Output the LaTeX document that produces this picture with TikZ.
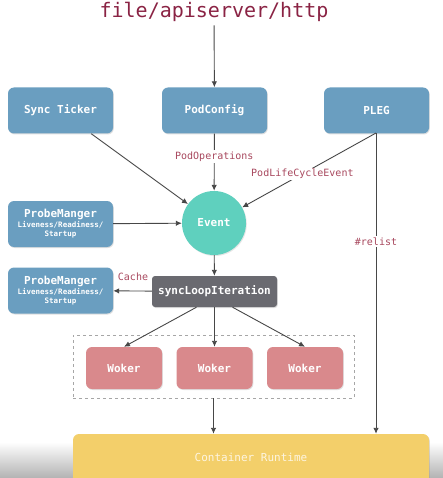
\documentclass[tikz,border=0pt]{standalone}
\usepackage{fontspec}
\setmonofont{DejaVu Sans Mono}
\usetikzlibrary{arrows.meta,positioning,shadows}
\definecolor{titlered}{HTML}{8A2344}
\definecolor{labelred}{HTML}{A8485E}
\definecolor{boxblue}{HTML}{6A9EC0}
\definecolor{eventteal}{HTML}{5FD0BE}
\definecolor{loopgray}{HTML}{6A6A70}
\definecolor{wokerred}{HTML}{D9898C}
\definecolor{runtimeyellow}{HTML}{F3CF6A}
\definecolor{arrowgray}{HTML}{474747}
\tikzset{%
    >={Latex[length=6pt,width=5.5pt]},
    flow/.style={draw=arrowgray, line width=0.9pt},
    blockbox/.style={rounded corners=6pt, fill=boxblue, text=white,
        minimum width=105pt, minimum height=46pt, inner sep=0pt,
        align=center, font=\ttfamily\bfseries\fontsize{11}{12}\selectfont,
        drop shadow={opacity=0.25, shadow xshift=0.8pt, shadow yshift=-1pt}},
    wokerbox/.style={blockbox, fill=wokerred, minimum width=76pt, minimum height=42pt},
    flowlabel/.style={fill=white, text=labelred, inner sep=1.5pt,
        font=\ttfamily\fontsize{10}{11}\selectfont}
}
\newcommand\probetext{ProbeManger\\[-2pt]{\fontsize{7.5}{8}\selectfont Liveness/Readiness/}\\[-3pt]{\fontsize{7.5}{8}\selectfont Startup}}

\begin{document}
\begin{tikzpicture}[x=1pt,y=-1pt]
      \useasboundingbox (0,0) rectangle (443,478);
      \clip (0,0) rectangle (443,478);
      % faded bottom edge
      \shade[top color=white, bottom color=black!30] (0,442) rectangle (443,478);

      \node[text=titlered, font=\ttfamily\fontsize{20}{22}\selectfont] (src) at (214,12) {file/apiserver/http};

      \node[blockbox] (ticker) at (60.5,110.5) {Sync Ticker};
      \node[blockbox] (podconfig) at (214.5,110.5) {PodConfig};
      \node[blockbox] (pleg) at (376.5,110.5) {PLEG};

      \node[circle, fill=eventteal, text=white, minimum size=64pt, inner sep=0pt,
            font=\ttfamily\bfseries\fontsize{11}{12}\selectfont,
            drop shadow={opacity=0.2, shadow xshift=0.8pt, shadow yshift=-1pt}] (event) at (214,223) {Event};

      \node[blockbox] (probeA) at (60.5,224) {\probetext};
      \node[blockbox] (probeB) at (60.5,290.5) {\probetext};

      \node[blockbox, fill=loopgray, rounded corners=3pt, minimum width=125pt, minimum height=31pt] (loop) at (214.5,291.5) {syncLoopIteration};

      \node[wokerbox] (wokerA) at (124,368) {Woker};
      \node[wokerbox] (wokerB) at (214.5,368) {Woker};
      \node[wokerbox] (wokerC) at (305,368) {Woker};
      \node[draw=black!35, dashed, line width=0.5pt, minimum width=281pt, minimum height=63pt, inner sep=0pt] (pool) at (213.5,366.5) {};

      \node[blockbox, fill=runtimeyellow, minimum width=356pt, minimum height=56pt] (runtime) at (251,462) {};
      \node[text=white!80!runtimeyellow, font=\ttfamily\fontsize{11}{12}\selectfont] (runtimelbl) at (251,457) {Container Runtime};

      \draw[flow, ->] (src) -- (podconfig);
      \draw[flow, ->] (ticker.south east) ++(-22,0) coordinate (t0) -- (event);
      \draw[flow, ->] (podconfig) -- node[flowlabel, pos=0.4] (podops) {PodOperations} (event);
      \coordinate (plegout) at (376,133);
      \draw[flow, ->] (plegout) -- node[flowlabel, pos=0.55] (lifecycle) {PodLifeCycleEvent} (event);
      \draw[flow, ->] (probeA) -- (event);
      \draw[flow, ->] (event) -- (loop);
      \draw[flow, ->] (loop) -- (probeB);
      \node[text=labelred, font=\ttfamily\fontsize{10}{11}\selectfont, anchor=south] (cache) at (133,284) {Cache};

      \draw[flow, ->] ([xshift=-18pt]loop.south) -- (wokerA.north);
      \draw[flow, ->] (loop.south) -- (wokerB.north);
      \draw[flow, ->] ([xshift=18pt]loop.south) -- (wokerC.north);

      \draw[flow, ->] (pool.south) -- (pool.south |- runtime.north);
      \draw[flow, ->] (plegout) -- node[flowlabel, pos=0.36] (relist) {\#relist} (plegout |- runtime.north);
    \end{tikzpicture}
\end{document}
